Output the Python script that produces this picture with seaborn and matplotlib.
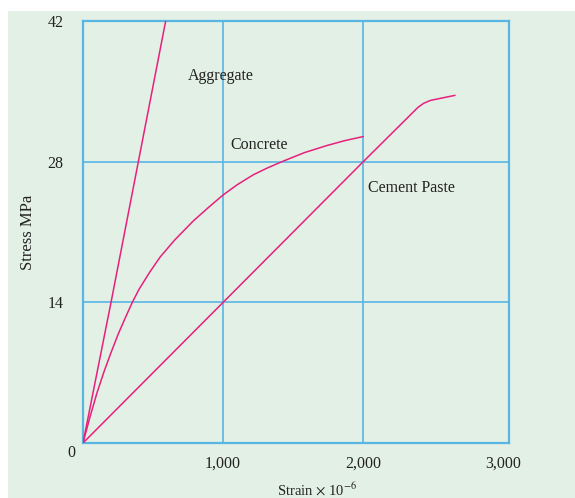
import matplotlib
matplotlib.use("Agg")
import matplotlib.pyplot as plt
import matplotlib.transforms as mtransforms
import seaborn as sns
from matplotlib.patches import Rectangle

# stress-strain curves (strain x 10^-6, stress MPa)
aggregate_strain = [0, 200, 395, 590]
aggregate_stress = [0, 14, 28, 42]

concrete_strain = [0, 50, 100, 150, 200, 250, 300, 352, 400, 476, 550, 654, 787, 900,
                   1001, 1100, 1216, 1320, 1430, 1580, 1739, 1870, 2000]
concrete_stress = [0, 2.6, 5.0, 7.1, 9.0, 10.8, 12.4, 14.0, 15.3, 17.0, 18.5, 20.2, 22.1, 23.5,
                   24.7, 25.7, 26.7, 27.4, 28.06, 28.9, 29.6, 30.1, 30.5]

paste_strain = [0, 2000, 2390, 2430, 2480, 2655]
paste_stress = [0, 28, 33.4, 33.8, 34.1, 34.6]

x_ticks = [1000, 2000, 3000]
x_tick_labels = ["1,000", "2,000", "3,000"]
y_ticks = [0, 14, 28, 42]

labels = ["Aggregate", "Concrete", "Cement Paste"]
label_pos = [(745, 36.5), (1050, 29.7), (2035, 25.4)]

bg = "#e3f0e5"
blue = "#58b6e4"
pink = "#e8207d"
txt = "#222222"

sns.set_style("white")
plt.rcParams["font.family"] = ["Liberation Serif", "DejaVu Serif"]
plt.rcParams["mathtext.fontset"] = "stix"

fig = plt.figure(figsize=(5.75, 4.98), dpi=100)
fig.patch.set_facecolor("white")
fig.patches.append(Rectangle((8 / 575, 0), 1, (498 - 11) / 498,
                             transform=fig.transFigure, facecolor=bg,
                             edgecolor="none", zorder=-10))

ax = fig.add_axes([83 / 575, 55 / 498, 426 / 575, 422 / 498])
ax.set_zorder(1)
ax.set_facecolor(bg)

for xs, ys in [(aggregate_strain, aggregate_stress),
               (concrete_strain, concrete_stress),
               (paste_strain, paste_stress)]:
    sns.lineplot(x=xs, y=ys, ax=ax, color=pink, lw=1.1, sort=False, zorder=3,
                 solid_joinstyle="round")

ax.set_xlim(0, 3040)
ax.set_ylim(0, 42)

# grid lines (none at 3,000: the frame sits there)
for v in [1000, 2000]:
    ax.axvline(v, color=blue, lw=1.2, zorder=1)
for v in [14, 28]:
    ax.axhline(v, color=blue, lw=1.2, zorder=1)

for s in ax.spines.values():
    s.set_color(blue)
    s.set_linewidth(1.6)

ax.set_xticks(x_ticks)
ax.set_xticklabels(x_tick_labels)
ax.set_yticks(y_ticks)
ax.tick_params(axis="both", length=0, labelsize=11.5, colors=txt)
ax.tick_params(axis="x", pad=9)
ax.tick_params(axis="y", pad=14)

# the origin "0" sits a little lower and to the right
zero = ax.get_yticklabels()[0]
zero.set_transform(zero.get_transform() +
                   mtransforms.ScaledTranslation(0.12, -0.08, fig.dpi_scale_trans))

ax.set_ylabel("Stress MPa", fontsize=12, color=txt)
ax.yaxis.set_label_coords((36 - 83) / 426, 0.5)
ax.set_xlabel("Strain $\\times$ 10$^{-6}$", fontsize=10.5, color=txt)
ax.xaxis.set_label_coords((317 - 83) / 426, (443 - 481) / 422)

for name, (lx, ly) in zip(labels, label_pos):
    ax.text(lx, ly, name, fontsize=11.5, color=txt, ha="left", va="center")

fig.savefig("out.png", dpi=100, facecolor="white")
